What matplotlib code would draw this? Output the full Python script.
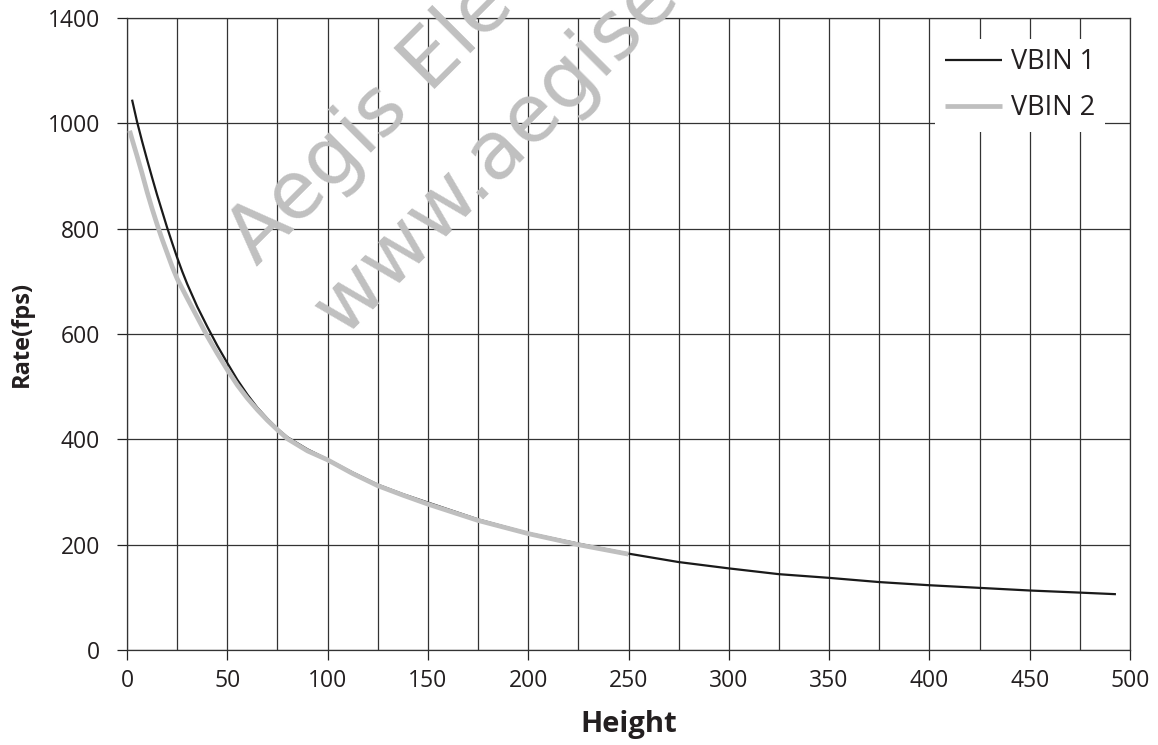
import matplotlib.pyplot as plt

# VBIN 1 (black)
h1 = [2.5, 5, 7.5, 10, 12.5, 15, 17.5, 20, 22.5, 25, 27.5, 30, 35, 40, 45, 50, 55, 60, 65, 70,
      75, 80, 90, 100, 112.5, 125, 137.5, 150, 175, 200, 225, 250, 275, 300, 325, 350, 375,
      400, 425, 450, 475, 493]
r1 = [1045, 1003, 966, 931, 897, 864, 833, 802, 773, 745, 719, 695, 652, 614, 578, 545, 513, 485,
      460, 439, 420, 404, 381, 362, 337, 314, 296, 280, 248, 222, 202, 183, 167, 155, 144, 137,
      129, 123, 118, 113, 109, 106]

# VBIN 2 (gray)
h2 = [1.3, 2.5, 5, 7.5, 10, 12.5, 15, 17.5, 20, 22.5, 25, 30, 35, 40, 45, 50, 55, 60, 65, 70,
      75, 80, 90, 100, 112.5, 125, 137.5, 150, 175, 200, 225, 250]
r2 = [986, 970, 938, 905, 870, 838, 808, 780, 754, 728, 705, 668, 632, 596, 563, 532, 503, 478,
      456, 436, 418, 401, 378, 361, 335, 312, 294, 277, 246, 221, 200, 182]

x_ticks = [0, 50, 100, 150, 200, 250, 300, 350, 400, 450, 500]
y_ticks = [0, 200, 400, 600, 800, 1000, 1200]
y_tick_labels = ['0', '200', '400', '600', '800', '1000', '1400']

plt.rcParams['font.family'] = ['Open Sans', 'DejaVu Sans']

fig = plt.figure(figsize=(11.58, 7.45), dpi=100)
ax = fig.add_axes([0.1097, 0.1275, 0.8661, 0.8483])

# watermark
fig.text(0.2219, 0.6416, 'Aegis Ele', rotation=45, rotation_mode='anchor', fontsize=58,
         color='#c0c0c0', family='DejaVu Sans', ha='left', va='baseline', zorder=5)
fig.text(0.2962, 0.5477, 'www.aegise', rotation=45, rotation_mode='anchor', fontsize=58,
         color='#c0c0c0', family='DejaVu Sans', ha='left', va='baseline', zorder=5)

ax.plot(h1, r1, color='#1a1a1a', lw=1.6, label='VBIN 1', zorder=3, solid_capstyle='butt')
ax.plot(h2, r2, color='#bfbfbf', lw=3.4, label='VBIN 2', zorder=4, solid_capstyle='butt')

ax.set_xlim(0, 500)
ax.set_ylim(0, 1200)
ax.set_xticks(x_ticks)
ax.set_xticks(range(0, 501, 25), minor=True)
ax.set_yticks(y_ticks)
ax.set_yticklabels(y_tick_labels)
ax.tick_params(axis='both', which='major', labelsize=16.5, length=7.5, width=0.9,
               color='#222222', labelcolor='#231f20')
ax.tick_params(axis='x', which='minor', length=0)
ax.tick_params(axis='x', pad=6.5)
ax.tick_params(axis='y', pad=12)

ax.grid(True, which='both', axis='x', color='#333333', lw=0.9)
ax.grid(True, which='major', axis='y', color='#333333', lw=0.9)
ax.set_axisbelow(True)
for s in ax.spines.values():
    s.set_color('#333333')
    s.set_linewidth(0.9)

ax.set_xlabel('Height', fontsize=21, fontweight='bold', color='#231f20', labelpad=12)
ax.set_ylabel('Rate(fps)', fontsize=17, fontweight='bold', color='#231f20', labelpad=10)

leg = ax.legend(loc='upper right', bbox_to_anchor=(0.975, 0.9676), borderaxespad=0,
                fontsize=19.5, frameon=True, facecolor='white', edgecolor='none',
                framealpha=1, fancybox=False, handlelength=2.1, handletextpad=0.35,
                borderpad=0.35, labelspacing=0.68)
for t in leg.get_texts():
    t.set_color('#231f20')
leg.set_zorder(6)

fig.savefig('out.png', dpi=100)
